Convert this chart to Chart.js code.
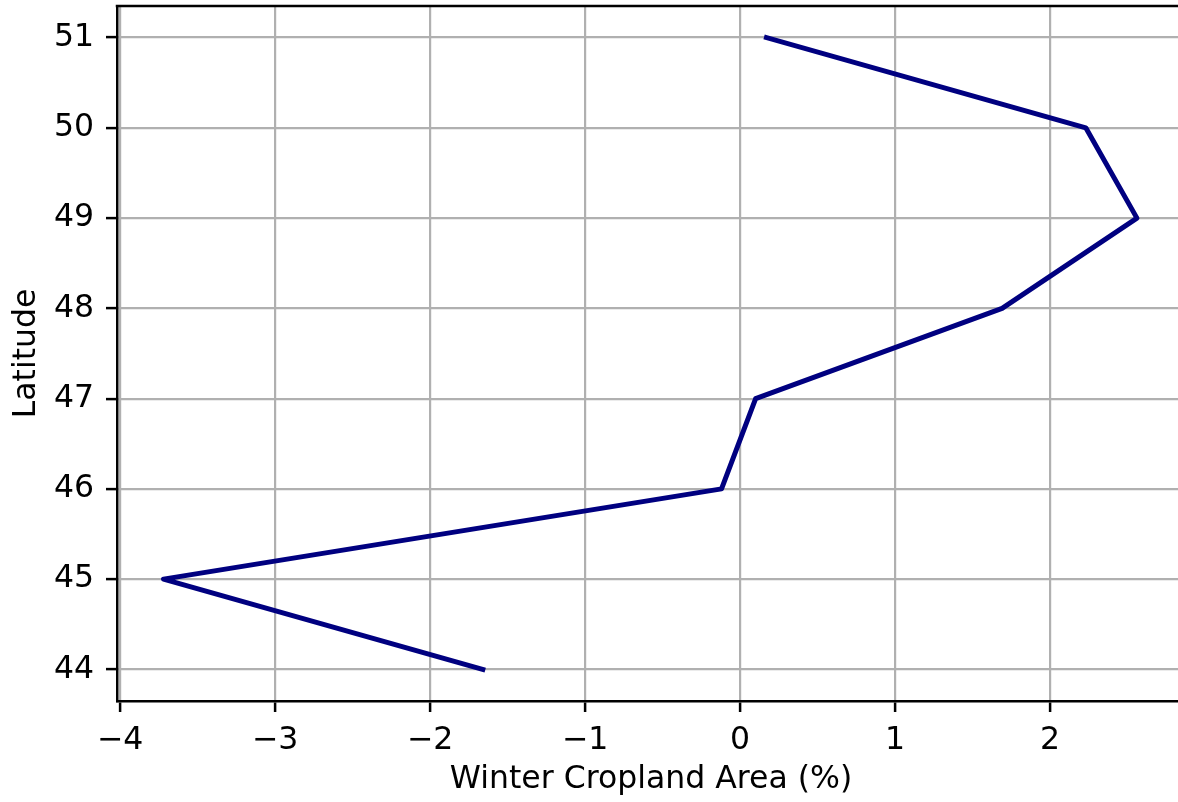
<!DOCTYPE html>
<html>
<head>
<meta charset="utf-8">
<script src="https://cdn.jsdelivr.net/npm/chart.js@4/dist/chart.umd.min.js"></script>
<style>
  html, body { margin: 0; padding: 0; background: #ffffff; overflow: hidden; }
  #wrap { width: 1200px; height: 802px; }
</style>
</head>
<body>
<div id="wrap"><canvas id="chart" width="1200" height="802"></canvas></div>
<script>
// Latitude bands and the change in winter cropland area for each band
const latitudes = [51, 50, 49, 48, 47, 46, 45, 44];
const croplandChange = [0.17, 2.23, 2.56, 1.69, 0.10, -0.12, -3.72, -1.66];

// Tick values for both axes
const xTickValues = [-4, -3, -2, -1, 0, 1, 2];
const yTickValues = [44, 45, 46, 47, 48, 49, 50, 51];

const FONT = "'DejaVu Sans', sans-serif";
const FONT_SIZE = 31.5;
const fmt = v => (v < 0 ? '\u2212' + Math.abs(v) : String(v));

// Closes the frame along the top edge of the plot area
const topSpine = {
  id: 'topSpine',
  afterDraw(chart) {
    const { ctx, chartArea } = chart;
    ctx.save();
    ctx.strokeStyle = '#000000';
    ctx.lineWidth = 2.5;
    ctx.beginPath();
    ctx.moveTo(chartArea.left - 1.25, chartArea.top);
    ctx.lineTo(chartArea.right + 1.25, chartArea.top);
    ctx.stroke();
    ctx.restore();
  }
};

const points = latitudes.map((lat, i) => ({ x: croplandChange[i], y: lat }));

new Chart(document.getElementById('chart'), {
  type: 'scatter',
  data: {
    datasets: [{
      data: points,
      showLine: true,
      borderColor: '#000080',
      backgroundColor: '#000080',
      borderWidth: 5,
      borderJoinStyle: 'round',
      borderCapStyle: 'square',
      pointRadius: 0,
      pointHoverRadius: 0,
      tension: 0
    }]
  },
  options: {
    responsive: false,
    animation: false,
    devicePixelRatio: 1,
    layout: { padding: { top: 6, right: 15, left: 0, bottom: 0 } },
    plugins: { legend: { display: false }, tooltip: { enabled: false } },
    scales: {
      x: {
        type: 'linear',
        min: -4.02,
        max: 2.87,
        afterFit(scale) {
          scale.height = 101;
          scale.paddingLeft = 0;
          scale.paddingRight = 0;
        },
        afterBuildTicks(scale) { scale.ticks = xTickValues.map(v => ({ value: v })); },
        border: { display: true, color: '#000000', width: 2.5 },
        grid: {
          color: '#b0b0b0',
          lineWidth: 2.2,
          drawTicks: true,
          tickLength: 11,
          tickColor: '#000000',
          tickWidth: 2.5
        },
        ticks: {
          includeBounds: false,
          color: '#000000',
          padding: 10,
          maxRotation: 0,
          font: { family: FONT, size: FONT_SIZE },
          callback: v => fmt(v)
        },
        title: {
          display: true,
          text: 'Winter Cropland Area (%)',
          color: '#000000',
          font: { family: FONT, size: FONT_SIZE },
          padding: { top: 0, bottom: 3 }
        }
      },
      y: {
        type: 'linear',
        min: 43.65,
        max: 51.35,
        afterFit(scale) {
          scale.width = 117;
          scale.paddingTop = 0;
          scale.paddingBottom = 0;
        },
        afterBuildTicks(scale) { scale.ticks = yTickValues.map(v => ({ value: v })); },
        border: { display: true, color: '#000000', width: 2.5 },
        grid: {
          color: '#b0b0b0',
          lineWidth: 2.2,
          drawTicks: true,
          tickLength: 11,
          tickColor: '#000000',
          tickWidth: 2.5
        },
        ticks: {
          includeBounds: false,
          color: '#000000',
          padding: 12,
          font: { family: FONT, size: FONT_SIZE },
          callback: v => fmt(v)
        },
        title: {
          display: true,
          text: 'Latitude',
          color: '#000000',
          font: { family: FONT, size: FONT_SIZE },
          padding: { top: 8, bottom: 0 }
        }
      }
    }
  },
  plugins: [topSpine]
});
</script>
</body>
</html>
